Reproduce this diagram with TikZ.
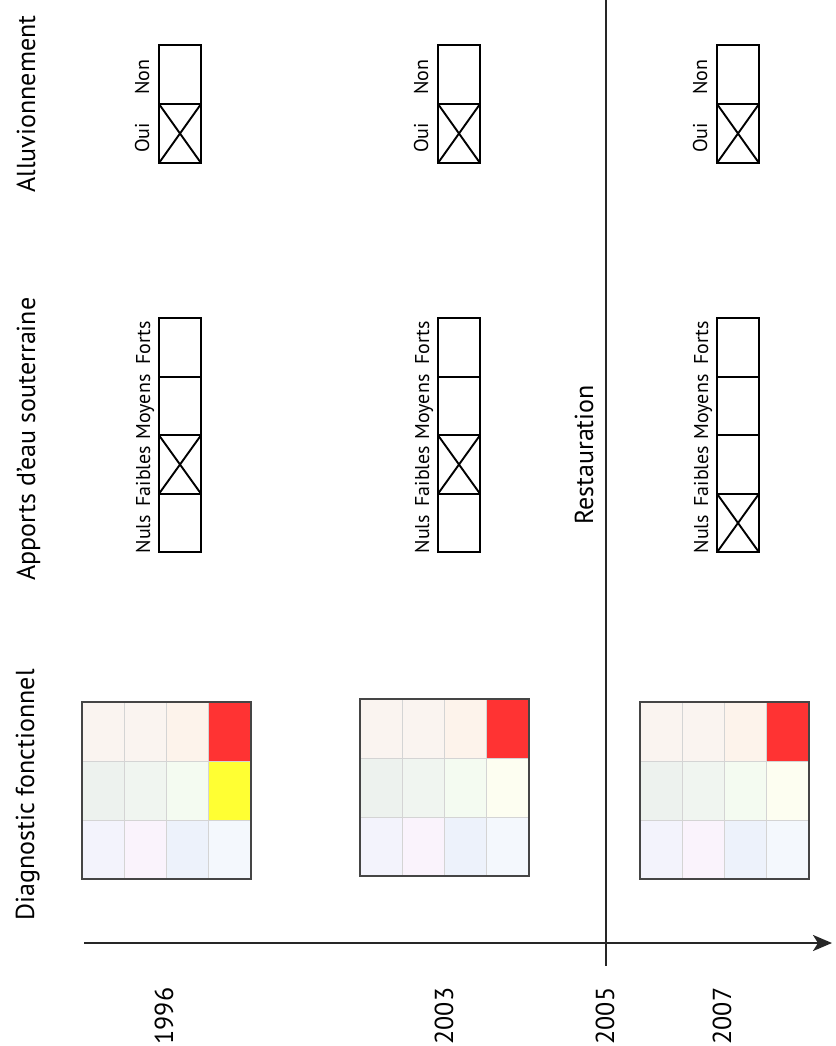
\documentclass[tikz,border=0pt]{standalone}
\usepackage{fontspec}
\setmainfont{PT Sans}
\usetikzlibrary{arrows.meta}
\definecolor{cpa}{HTML}{FAF4F0}
\definecolor{cpb}{HTML}{FDF3EB}
\definecolor{cred}{HTML}{FF3333}
\definecolor{cga}{HTML}{EDF2EE}
\definecolor{cgb}{HTML}{F0F5F0}
\definecolor{cgc}{HTML}{F4FBF1}
\definecolor{cyel}{HTML}{FFFF33}
\definecolor{cpy}{HTML}{FDFEF1}
\definecolor{cla}{HTML}{F3F3FC}
\definecolor{clb}{HTML}{FAF3FC}
\definecolor{clc}{HTML}{EDF2FB}
\definecolor{cld}{HTML}{F4F8FD}
\definecolor{cgrid}{HTML}{D4D4D4}
\definecolor{cframe}{HTML}{454545}
\begin{document}
\begin{tikzpicture}[x=1pt,y=-1pt,
  title/.style={rotate=90, anchor=base, inner sep=0pt, font=\fontsize{26}{30}\selectfont},
  lab/.style={rotate=90, anchor=base, inner sep=0pt, font=\fontsize{20}{24}\selectfont},
  yearlab/.style={rotate=90, anchor=base, inner sep=0pt, font=\fontsize{26}{30}\selectfont},
  cellbox/.style={draw=black, line width=2.4pt, minimum width=42pt, minimum height=58.5pt, inner sep=0pt, outer sep=0pt},
  xline/.style={line width=1.9pt},
  frame/.style={draw=cframe, line width=2.2pt, minimum width=169pt, minimum height=177pt, inner sep=0pt, outer sep=0pt},
  axis/.style={line width=2.4pt, draw=black!85}
]
\useasboundingbox (0,0) rectangle (835,1046);

% titles
\node[title] (tdiag) at (34,795) {Diagnostic fonctionnel};
\node[title] (tapp) at (35,439) {Apports d’eau souterraine};
\node[title] (talu) at (35,104) {Alluvionnement};
\node[title] (trest) at (593,455) {Restauration};

% grids
\foreach \gx/\gy/\ycol/\gn in {82/702/cyel/g1, 360/699/cpy/g2, 640/702/cpy/g3}{
  \foreach \c/\r/\col in {0/0/cpa,1/0/cpa,2/0/cpb,3/0/cred,
                          0/1/cga,1/1/cgb,2/1/cgc,3/1/\ycol,
                          0/2/cla,1/2/clb,2/2/clc,3/2/cld}{
    \fill[\col] (\gx+\c*42.25,\gy+\r*59) rectangle ++(42.25,59);
  }
  \foreach \c in {1,2,3}{
    \draw[cgrid, line width=1pt] (\gx+\c*42.25,\gy) -- ++(0,177);
  }
  \foreach \r in {1,2}{
    \draw[cgrid, line width=1pt] (\gx,\gy+\r*59) -- ++(169,0);
  }
  \fill[cred] (\gx+3*42.25,\gy) rectangle ++(42.25,59);
  \node[frame] (\gn) at (\gx+84.5,\gy+88.5) {};
}

% Apports boxes and labels
\foreach \L/\k in {159/1, 438/2, 717/3}{
  \node[cellbox] (a\k n) at (\L+21,523) {};
  \node[cellbox] (a\k f) at (\L+21,464.5) {};
  \node[cellbox] (a\k m) at (\L+21,406) {};
  \node[cellbox] (a\k F) at (\L+21,347.5) {};
  \node[lab] (la\k n) at (\L-9,534) {Nuls};
  \node[lab] (la\k f) at (\L-9,476) {Faibles};
  \node[lab] (la\k m) at (\L-9,407) {Moyens};
  \node[lab] (la\k F) at (\L-9,343) {Forts};
  % alluvionnement
  \node[cellbox, minimum height=59pt] (b\k o) at (\L+21,133.5) {};
  \node[cellbox, minimum height=59pt] (b\k N) at (\L+21,74.5) {};
  \node[lab] (lb\k o) at (\L-10,138) {Oui};
  \node[lab] (lb\k N) at (\L-10,77) {Non};
  \draw[xline] (b\k o.north west) -- (b\k o.south east);
  \draw[xline] (b\k o.north east) -- (b\k o.south west);
}
% crosses in Apports
\draw[xline] (a1f.north west) -- (a1f.south east);
\draw[xline] (a1f.north east) -- (a1f.south west);
\draw[xline] (a2f.north west) -- (a2f.south east);
\draw[xline] (a2f.north east) -- (a2f.south west);
\draw[xline] (a3n.north west) -- (a3n.south east);
\draw[xline] (a3n.north east) -- (a3n.south west);

% axis and restoration line
\coordinate (axs) at (84,943);
\coordinate (axe) at (832,943);
\draw[axis, -{Stealth[length=19pt,width=16pt,inset=5pt]}] (axs) -- (axe);
\coordinate (vt) at (606,-2);
\coordinate (vb) at (606,966);
\draw[line width=2.2pt, draw=black!85] (vt) -- (vb);

% years
\node[yearlab] (y1) at (173,1016) {1996};
\node[yearlab] (y2) at (453,1016) {2003};
\node[yearlab] (y3) at (614,1016) {2005};
\node[yearlab] (y4) at (731,1016) {2007};
\end{tikzpicture}
\end{document}
